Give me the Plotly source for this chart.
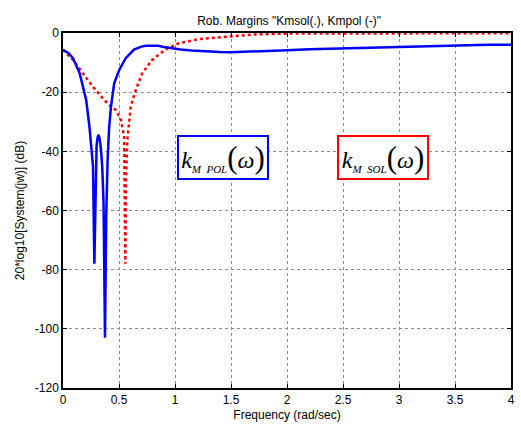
import plotly.graph_objects as go

# Kmpol (blue, solid)
pol_freq = [0, 0.05, 0.089, 0.148, 0.207, 0.236, 0.257, 0.268, 0.28, 0.29, 0.3, 0.308, 0.316, 0.326,
            0.338, 0.35, 0.362, 0.375, 0.386, 0.398, 0.412, 0.428, 0.457, 0.502, 0.56, 0.634,
            0.7, 0.74, 0.8, 0.85, 0.9, 0.97, 1.05, 1.15, 1.27, 1.4, 1.5, 1.6, 1.8, 2.0, 2.2,
            2.4, 2.6, 2.8, 3.0, 3.2, 3.4, 3.6, 3.8, 4.0]
pol_db = [-5.7, -6.8, -8.5, -13.5, -22.6, -31.6, -40.5, -45, -78, -48, -38, -35.5, -34.4, -35.5,
          -39, -45, -57, -103, -62, -43, -32, -25, -17, -12.5, -8.5, -5.6,
          -4.6, -4.3, -4.2, -4.3, -4.7, -5.2, -5.6, -5.9, -6.2, -6.4, -6.5, -6.4, -6.2, -5.8, -5.5,
          -5.3, -5.0, -4.8, -4.6, -4.4, -4.2, -4.1, -4.0, -4.0]

# Kmsol (red, dotted)
sol_freq = [0, 0.089, 0.177, 0.266, 0.354, 0.41, 0.47, 0.517, 0.546, 0.552, 0.557, 0.562,
            0.575, 0.605, 0.65, 0.708, 0.796, 0.915, 1.03, 1.21, 1.45, 1.7, 2.0, 2.5, 3.0, 3.5, 4.0]
sol_db = [-5.7, -9.1, -13.6, -18.1, -22, -24.3, -26, -29.3, -35, -50, -78, -50,
          -36, -24.9, -19.2, -13.6, -9.1, -5.6, -3.5, -2.1, -1.2, -0.5, -0.2, -0.1, -0.1, -0.1, -0.1]

x_ticks = [0, 0.5, 1, 1.5, 2, 2.5, 3, 3.5, 4]
x_tick_text = ["0", "0.5", "1", "1.5", "2", "2.5", "3", "3.5", "4"]
y_ticks = [0, -20, -40, -60, -80, -100, -120]
y_tick_text = ["0", "-20", "-40", "-60", "-80", "-100", "-120"]

fig = go.Figure()
fig.add_trace(go.Scatter(x=sol_freq, y=sol_db, mode="lines",
                         line=dict(color="#ff0000", width=2.5, dash="dot"), showlegend=False))
fig.add_trace(go.Scatter(x=pol_freq, y=pol_db, mode="lines",
                         line=dict(color="#0000ff", width=2.5), showlegend=False))

label_font = dict(family="Times New Roman, Liberation Serif, serif", size=24, color="black")


def label(sub):
    return ("<i>k</i><sub><i><span style='font-size:11px'>" + sub + "</span></i></sub>"
            "<span style='font-size:31px'>(</span><i>ω</i><span style='font-size:31px'>)</span>")


fig.add_annotation(x=1.427, y=-42.1, xref="x", yref="y", showarrow=False,
                   text=label("M  POL"), font=label_font, bordercolor="#0000ff", borderwidth=2,
                   bgcolor="white", borderpad=2, width=84, height=37)
fig.add_annotation(x=2.86, y=-42.1, xref="x", yref="y", showarrow=False,
                   text=label("M  SOL"), font=label_font, bordercolor="#ff0000", borderwidth=2,
                   bgcolor="white", borderpad=2, width=84, height=37)

axis_common = dict(showline=True, linecolor="black", linewidth=1.5, mirror="allticks",
                   ticks="inside", ticklen=4, tickcolor="black",
                   showgrid=True, gridcolor="#8c8c8c", griddash="dot", gridwidth=1,
                   zeroline=False, tickfont=dict(family="Arial, Liberation Sans", size=12, color="black"))

fig.update_xaxes(range=[0, 4], tickvals=x_ticks, ticktext=x_tick_text,
                 title=dict(text="Frequency (rad/sec)", font=dict(family="Arial, Liberation Sans", size=12, color="black"), standoff=4),
                 **axis_common)
fig.update_yaxes(range=[-120, 0], tickvals=y_ticks, ticktext=y_tick_text,
                 title=dict(text="20*log10[System(jw)] (dB)", font=dict(family="Arial, Liberation Sans", size=12, color="black"), standoff=8),
                 **axis_common)

fig.update_layout(width=521, height=428, margin=dict(l=63, r=6, t=33, b=40),
                  paper_bgcolor="white", plot_bgcolor="white",
                  title=dict(text='Rob. Margins "Kmsol(.), Kmpol (-)"', x=0.555, xanchor="center",
                             y=0.952, yanchor="middle",
                             font=dict(family="Arial, Liberation Sans", size=12, color="black")))

fig.write_html("out.html")
